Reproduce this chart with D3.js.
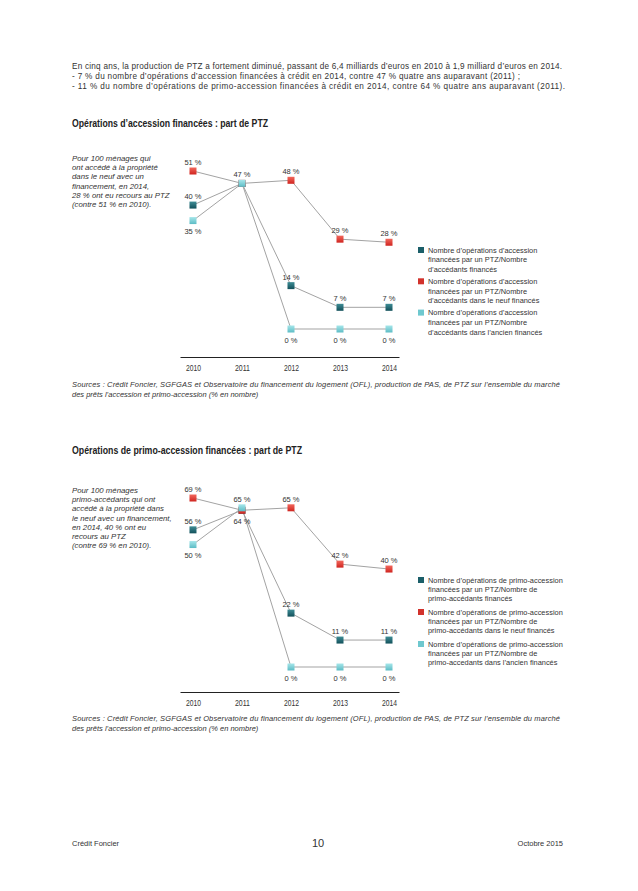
<!DOCTYPE html>
<html>
<head>
<meta charset="utf-8">
<script src="https://d3js.org/d3.v7.min.js"></script>
<style>
  body { margin: 0; background: #fff; }
  svg text { fill: #333; }
</style>
</head>
<body>
<svg width="638" height="891"></svg>
<script>

// ---- data ----
var years = [2010, 2011, 2012, 2013, 2014];

// Opérations d'accession financées
var accesTotal  = [40, 47, 14, 7, 7];
var accesNeuf   = [51, 47, 48, 29, 28];
var accesAncien = [35, 47, 0, 0, 0];

// Opérations de primo-accession financées
var primoTotal  = [56, 64, 22, 11, 11];
var primoNeuf   = [69, 64, 65, 42, 40];
var primoAncien = [50, 65, 0, 0, 0];

var legend1 = [
  ["Nombre d\u2019opérations d\u2019accession", "financées par un PTZ/Nombre", "d\u2019accédants financés"],
  ["Nombre d\u2019opérations d\u2019accession", "financées par un PTZ/Nombre", "d\u2019accédants dans le neuf financés"],
  ["Nombre d\u2019opérations d\u2019accession", "financées par un PTZ/Nombre", "d\u2019accédants dans l\u2019ancien financés"]
];
var legend2 = [
  ["Nombre d\u2019opérations de primo-accession", "financées par un PTZ/Nombre de", "primo-accédants financés"],
  ["Nombre d\u2019opérations de primo-accession", "financées par un PTZ/Nombre de", "primo-accédants dans le neuf financés"],
  ["Nombre d\u2019opérations de primo-accession", "financées par un PTZ/Nombre de", "primo-accedants dans l\u2019ancien financés"]
];

var introLines = [
  "En cinq ans, la production de PTZ a fortement diminué, passant de 6,4 milliards d\u2019euros en 2010 à 1,9 milliard d\u2019euros en 2014.",
  "-  7 % du nombre d\u2019opérations d\u2019accession financées à crédit en 2014, contre 47 % quatre ans auparavant (2011) ;",
  "-  11 % du nombre d\u2019opérations de primo-accession financées à crédit en 2014, contre 64 % quatre ans auparavant (2011)."
];
var note1 = ["Pour 100 ménages qui", "ont accédé à la propriété", "dans le neuf avec un",
             "financement, en 2014,", "28 % ont eu recours au PTZ", "(contre 51 % en 2010)."];
var note2 = ["Pour 100 ménages", "primo-accédants qui ont", "accédé à la propriété dans",
             "le neuf avec un financement,", "en 2014, 40 % ont eu", "recours au PTZ", "(contre 69 % en 2010)."];
var sources = ["Sources : Crédit Foncier, SGFGAS et Observatoire du financement du logement (OFL), production de PAS, de PTZ sur l\u2019ensemble du marché",
               "des prêts l\u2019accession et primo-accession (% en nombre)"];

var colors = ["#1b5f69", "#d2322c", "#6ec8cf"];
var grads = [["#3f8d96", "#12505a"], ["#f2685d", "#cf241f"], ["#a6e6ea", "#5cbcc5"]];

var svg = d3.select("svg");
var sans = "'Liberation Sans', Arial, sans-serif";

// gradients for the markers
var defs = svg.append("defs");
grads.forEach(function (g, i) {
  var lg = defs.append("linearGradient").attr("id", "g" + i)
      .attr("x1", 0).attr("y1", 0).attr("x2", 0).attr("y2", 1);
  lg.append("stop").attr("offset", "0%").attr("stop-color", g[0]);
  lg.append("stop").attr("offset", "100%").attr("stop-color", g[1]);
});

function lines(arr, x, y, step, size, style, lengths) {
  arr.forEach(function (t, i) {
    var el = svg.append("text")
      .attr("x", x).attr("y", y + i * step)
      .style("font-family", sans)
      .style("font-size", size + "px")
      .style("font-style", style || "normal")
      .text(t);
    if (lengths && lengths[i]) el.attr("textLength", lengths[i]).attr("lengthAdjust", "spacing");
  });
}

// intro text
lines(introLines, 72, 69, 10, 8.2, "normal", [490, 448, 493]);

function drawChart(cfg) {
  var x = d3.scaleLinear().domain([2009.735, 2014.204]).range([180, 399]);
  var y = d3.scaleLinear().domain(cfg.yDomain).range(cfg.yRange);

  // condensed bold title
  svg.append("text")
    .attr("x", 72).attr("y", cfg.titleY)
    .attr("textLength", cfg.titleLen).attr("lengthAdjust", "spacingAndGlyphs")
    .style("font-family", sans)
    .style("font-weight", "bold")
    .style("font-size", "11px")
    .style("fill", "#222")
    .text(cfg.title);

  lines(cfg.note, 72, cfg.noteY, cfg.noteStep, 7.8, "italic");

  // axis
  var ax = svg.append("g")
    .attr("transform", "translate(0," + cfg.axisY + ")")
    .call(d3.axisBottom(x).tickValues(years).tickFormat(d3.format("d")).tickSize(0).tickPadding(8));
  ax.select(".domain").attr("stroke", "#222").attr("stroke-width", 1);
  ax.selectAll("text")
    .attr("textLength", 15).attr("lengthAdjust", "spacingAndGlyphs")
    .style("font-family", sans).style("font-size", "8.5px").style("fill", "#333");

  var line = d3.line()
    .x(function (d, i) { return x(years[i]); })
    .y(function (d) { return y(d); });

  cfg.series.forEach(function (s) {
    svg.append("path").datum(s)
      .attr("d", line)
      .style("fill", "none")
      .style("stroke", "#a3a3a3")
      .style("stroke-width", 1);
  });

  cfg.series.forEach(function (s, k) {
    svg.append("g").selectAll("rect").data(s).enter().append("rect")
      .attr("x", function (d, i) { return x(years[i]) - 3.5; })
      .attr("y", function (d) { return y(d) - 3.5; })
      .attr("width", 7).attr("height", 7)
      .style("fill", "url(#g" + k + ")");
  });

  cfg.series.forEach(function (s, k) {
    s.forEach(function (d, i) {
      var side = cfg.sides[k][i];
      if (!side) return;
      svg.append("text")
        .attr("x", x(years[i]))
        .attr("y", y(d) + (side === "a" ? -6 : 13.5))
        .attr("text-anchor", "middle")
        .style("font-family", sans)
        .style("font-size", "7.5px")
        .text(d + " %");
    });
  });

  // legend
  cfg.legend.forEach(function (block, k) {
    var by = cfg.legendY + k * cfg.legendStep;
    svg.append("rect")
      .attr("x", 418).attr("y", by - 3)
      .attr("width", 6).attr("height", 6)
      .style("fill", colors[k]);
    lines(block, 428, by + 2.6, cfg.legendLine, 7.4, "normal");
  });

  lines(sources, 72, cfg.sourceY, 10.5, 7.5, "italic", [488, null]);
}

drawChart({
  title: "Opérations d\u2019accession financées : part de PTZ",
  titleY: 127, titleLen: 196,
  note: note1, noteY: 161, noteStep: 9.2,
  series: [accesTotal, accesNeuf, accesAncien],
  sides: [["a", "", "a", "a", "a"], ["a", "a", "a", "a", "a"], ["b", "", "b", "b", "b"]],
  yDomain: [0, 51], yRange: [329, 171],
  axisY: 357,
  legend: legend1, legendY: 250, legendStep: 31.3, legendLine: 9.7,
  sourceY: 386.5
});

drawChart({
  title: "Opérations de primo-accession financées : part de PTZ",
  titleY: 454, titleLen: 230,
  note: note2, noteY: 493, noteStep: 9.2,
  series: [primoTotal, primoNeuf, primoAncien],
  sides: [["a", "b", "a", "a", "a"], ["a", "", "a", "a", "a"], ["b", "a", "b", "b", "b"]],
  yDomain: [0, 69], yRange: [667, 498],
  axisY: 692,
  legend: legend2, legendY: 580, legendStep: 32, legendLine: 9.3,
  sourceY: 720.5
});

// footer
svg.append("text").attr("x", 72).attr("y", 846)
  .style("font-family", sans).style("font-size", "7.5px").text("Crédit Foncier");
svg.append("text").attr("x", 318).attr("y", 847).attr("text-anchor", "middle")
  .style("font-family", sans).style("font-size", "11px").text("10");
svg.append("text").attr("x", 563).attr("y", 846).attr("text-anchor", "end")
  .style("font-family", sans).style("font-size", "7.5px").text("Octobre 2015");

</script>
</body>
</html>
